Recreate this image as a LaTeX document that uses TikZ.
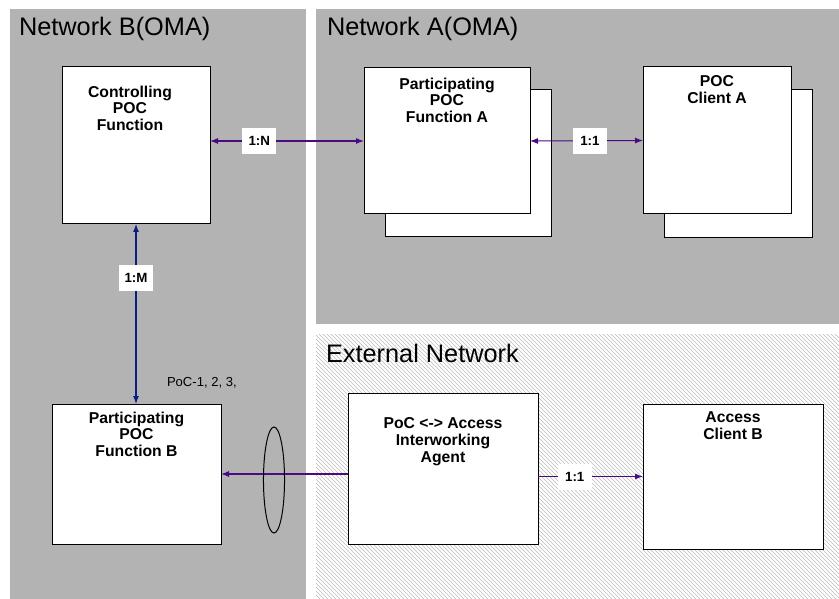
\documentclass[tikz,border=0pt]{standalone}
\usepackage{fontspec}
\setmainfont{Liberation Sans}
\usepackage{tikz}
\usetikzlibrary{
arrows.meta,
positioning,
patterns
}
\definecolor{panelgray}{HTML}{B3B3B3}
\definecolor{hatchgray}{HTML}{BDBDBD}
\definecolor{linkpurple}{HTML}{4B0A82}
\definecolor{linknavy}{HTML}{0A1E82}

\begin{document}
\begin{tikzpicture}[
        x=0.75pt, y=-0.75pt,
        >={Latex[length=6pt,width=4.5pt]},
        every node/.style={inner sep=0pt, outer sep=0pt},
        title/.style={anchor=base west, font=\fontsize{19}{22}\selectfont},
        fnbox/.style={draw, fill=white, line width=0.75pt, anchor=north west},
        fntext/.style={align=center, font=\bfseries\fontsize{11.8}{12.4}\selectfont},
        tag/.style={fill=white, text=black, minimum width=25.5pt, minimum height=19.5pt, font=\bfseries\fontsize{10}{12}\selectfont},
        link/.style={linkpurple, line width=0.8pt}
    ]
        \useasboundingbox (0,0) rectangle (839,599);

        % network areas
        \fill[panelgray] (9.5,9) rectangle (306,599);
        \fill[panelgray] (316,9) rectangle (839,324);
        \path[fill=white, postaction={pattern=north west lines, pattern color=hatchgray}] (316,334) rectangle (839,599);

        \node[title] (netB) at (19,36) {Network B(OMA)};
        \node[title] (netA) at (327,36) {Network A(OMA)};
        \node[title] (extnet) at (326,362) {External Network};

        % functions
        \node[fnbox, minimum width=111pt, minimum height=117.75pt] (ctrl) at (62,67) {};
        \node[fntext, below=14.25pt of ctrl.north, xshift=-4.5pt] (ctrltext) {Controlling\\POC\\Function};

        \node[fnbox, minimum width=124.5pt, minimum height=109.5pt] (partAback) at (385,90) {};
        \node[fnbox, minimum width=124.5pt, minimum height=109.5pt] (partA) at (364,68) {};
        \node[fntext, below=7.5pt of partA.north] (partAtext) {Participating\\POC\\Function A};

        \node[fnbox, minimum width=111pt, minimum height=110.25pt] (clientAback) at (664,90) {};
        \node[fnbox, minimum width=111pt, minimum height=110.25pt] (clientA) at (643,67) {};
        \node[fntext, below=6.75pt of clientA.north] (clientAtext) {POC\\Client A};

        \node[fnbox, minimum width=126.75pt, minimum height=105pt] (partB) at (52,404) {};
        \node[fntext, below=6pt of partB.north] (partBtext) {Participating\\POC\\Function B};

        \node[fnbox, minimum width=142.5pt, minimum height=113.25pt] (agent) at (348,393) {};
        \node[fntext, below=18.75pt of agent.north] (agenttext) {PoC <-> Access\\Interworking\\Agent};

        \node[fnbox, minimum width=135pt, minimum height=108.75pt] (access) at (643,404) {};
        \node[fntext, below=6pt of access.north] (accesstext) {Access\\Client B};

        % reference points
        \node[anchor=base west, font=\fontsize{9.8}{12}\selectfont] (refpts) at (167,386) {PoC-1, 2, 3,};

        % links
        \draw[link, <->] (ctrl.east |- partA.west) -- node[tag, pos=0.32] (tagN) {1:N} (partA.west);
        \draw[link, <->] (partA.east) -- node[tag, pos=0.53] (tagA) {1:1} (clientA.west);
        \draw[link, linknavy, <->] (ctrl.south) -- node[tag, pos=0.3] (tagM) {1:M} (ctrl.south |- partB.north);
        \draw[link, ->] (agent.west |- partB.east) -- (partB.east);
        \draw[link, ->] (agent.east |- access.west) -- node[tag, pos=0.35] (tagB) {1:1} (access.west);

        \draw[line width=0.75pt] (274,480) ellipse [x radius=7.9pt, y radius=39.75pt];
    \end{tikzpicture}
\end{document}
